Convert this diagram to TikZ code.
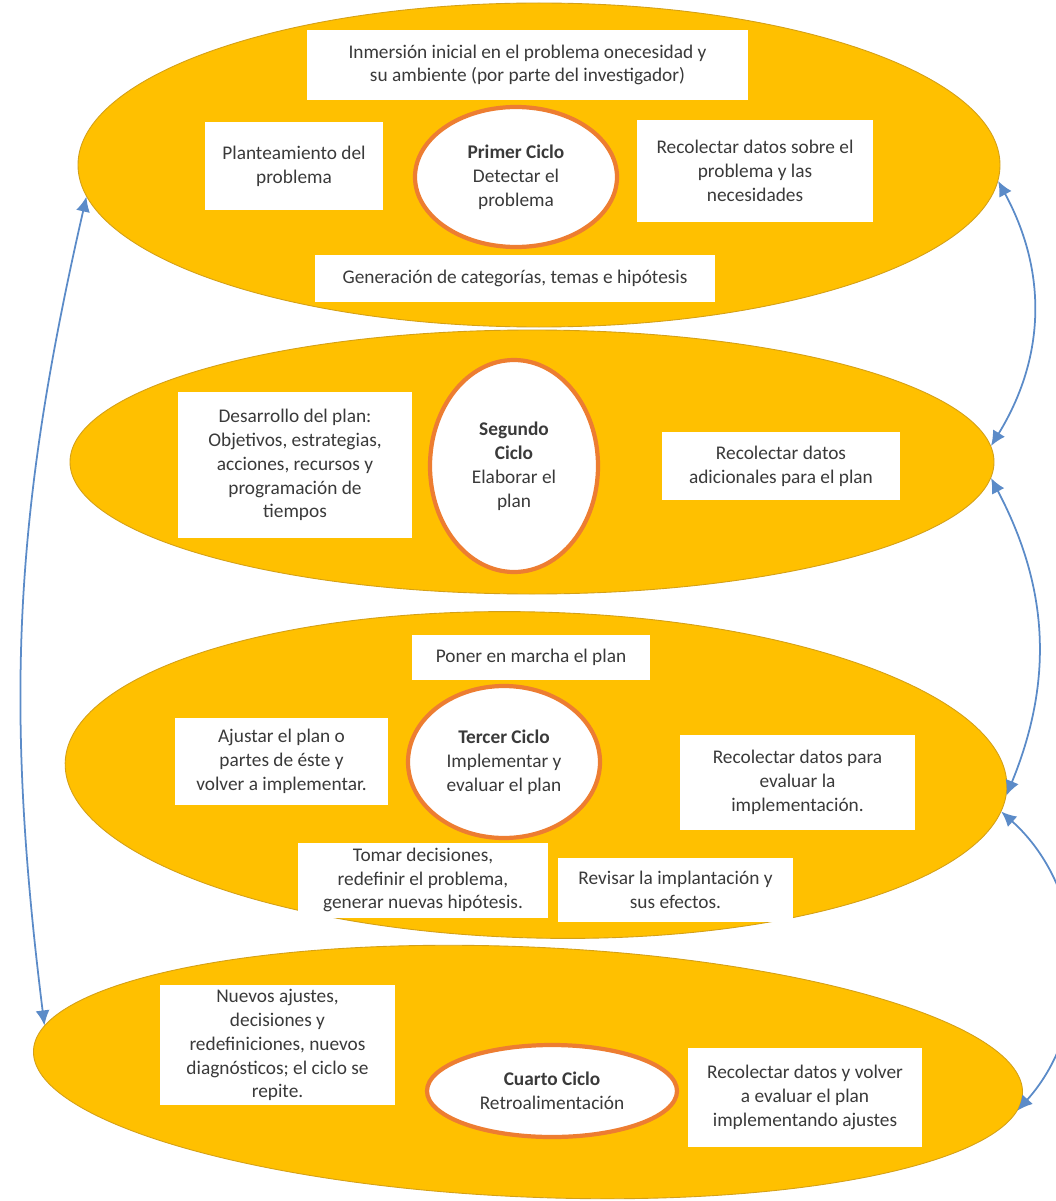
\documentclass[tikz,border=0pt]{standalone}
\usepackage{fontspec}
\setmainfont{Carlito}
\usetikzlibrary{shapes.geometric}
\usetikzlibrary{arrows.meta}
\definecolor{amarillo}{HTML}{FFC000}
\definecolor{borde}{HTML}{D4A017}
\definecolor{naranja}{HTML}{ED7D31}
\definecolor{azul}{HTML}{5B8BC8}
\definecolor{texto}{HTML}{3A3A3A}
\tikzset{>={Latex[length=3mm,width=2.8mm]}}

\begin{document}
\begin{tikzpicture}[
    ciclo/.style 2 args={ellipse, fill=amarillo, draw=borde, line width=0.5pt, inner sep=0pt, minimum width=#1, minimum height=#2},
    nucleo/.style 2 args={ellipse, fill=white, draw=naranja, line width=2.4pt, inner sep=0pt, align=center, text=texto, minimum width=#1, minimum height=#2},
    caja/.style 2 args={rectangle, fill=white, inner sep=1pt, align=center, text=texto, minimum width=#1, minimum height=#2},
    flecha/.style={<->, draw=azul, line width=1pt},
    font=\fontsize{11}{13.6}\selectfont]
    \path[use as bounding box, fill=white] (0,0) rectangle (21.1,-24.02);

    % the four cycles
    \node[ciclo={18.44cm}{6.48cm}] at (10.78,-3.30) (ciclo1) {};
    \node[ciclo={18.48cm}{5.28cm}] at (10.64,-9.24) (ciclo2) {};
    \node[ciclo={18.84cm}{6.52cm}, rotate=-1.5] at (10.72,-15.5) (ciclo3) {};
    \node[ciclo={19.8cm}{5.0cm}, rotate=-2.5] at (10.56,-21.44) (ciclo4) {};

    % Primer ciclo
    \node[nucleo={4.04cm}{2.8cm}] at (10.32,-3.54) (n1) {\textbf{Primer Ciclo}\\Detectar el\\problema};
    \node[caja={8.82cm}{1.4cm}] at (10.55,-1.30) (inmersion) {Inmersión inicial en el problema onecesidad y\\su ambiente (por parte del investigador)};
    \node[caja={3.56cm}{1.76cm}] at (5.88,-3.32) (plantear) {Planteamiento del\\problema};
    \node[caja={4.72cm}{2.04cm}] at (15.10,-3.42) (datos1) {Recolectar datos sobre el\\problema y las\\necesidades};
    \node[caja={8.0cm}{0.94cm}] at (10.30,-5.57) (categorias) {Generación de categorías, temas e hipótesis};

    % Segundo ciclo
    \node[nucleo={3.36cm}{4.24cm}] at (10.28,-9.32) (n2) {\textbf{Segundo}\\\textbf{Ciclo}\\Elaborar el\\plan};
    \node[caja={4.68cm}{2.92cm}] at (5.90,-9.30) (desarrollo) {Desarrollo del plan:\\Objetivos, estrategias,\\acciones, recursos y\\programación de\\tiempos};
    \node[caja={4.76cm}{1.36cm}] at (15.62,-9.32) (datos2) {Recolectar datos\\adicionales para el plan};

    % Tercer ciclo
    \node[caja={4.76cm}{0.9cm}] at (10.62,-13.15) (marcha) {Poner en marcha el plan};
    \node[nucleo={3.84cm}{3.04cm}] at (10.08,-15.24) (n3) {\textbf{Tercer Ciclo}\\Implementar y\\evaluar el plan};
    \node[caja={4.26cm}{1.74cm}] at (5.63,-15.23) (ajustar) {Ajustar el plan o\\partes de éste y\\volver a implementar.};
    \node[caja={4.7cm}{1.9cm}] at (15.95,-15.65) (datos3) {Recolectar datos para\\evaluar la\\implementación.};
    \node[caja={5.0cm}{1.5cm}] at (8.46,-17.6) (decisiones) {Tomar decisiones,\\redefinir el problema,\\generar nuevas hipótesis.};
    \node[caja={4.7cm}{1.28cm}] at (13.51,-17.80) (revisar) {Revisar la implantación y\\sus efectos.};

    % Cuarto ciclo
    \node[nucleo={5.0cm}{1.84cm}] at (11.04,-21.82) (n4) {\textbf{Cuarto Ciclo}\\Retroalimentación};
    \node[caja={4.7cm}{2.4cm}] at (5.55,-20.9) (nuevos) {Nuevos ajustes,\\decisiones y\\redefiniciones, nuevos\\diagnósticos; el ciclo se\\repite.};
    \node[caja={4.68cm}{1.98cm}] at (16.10,-21.95) (datos4) {Recolectar datos y volver\\a evaluar el plan\\implementando ajustes};

    % connectors
    \draw[flecha] (ciclo1.-2) to[bend left=30] (ciclo2.2);
    \draw[flecha] (ciclo2.-2) to[bend left=25] (ciclo3.-1.5);
    \draw[flecha] (ciclo3.-3.5) to[bend left=45] (ciclo4.-2);
    \draw[flecha] (ciclo1.184) to[bend right=10] (ciclo4.177);
\end{tikzpicture}
\end{document}
